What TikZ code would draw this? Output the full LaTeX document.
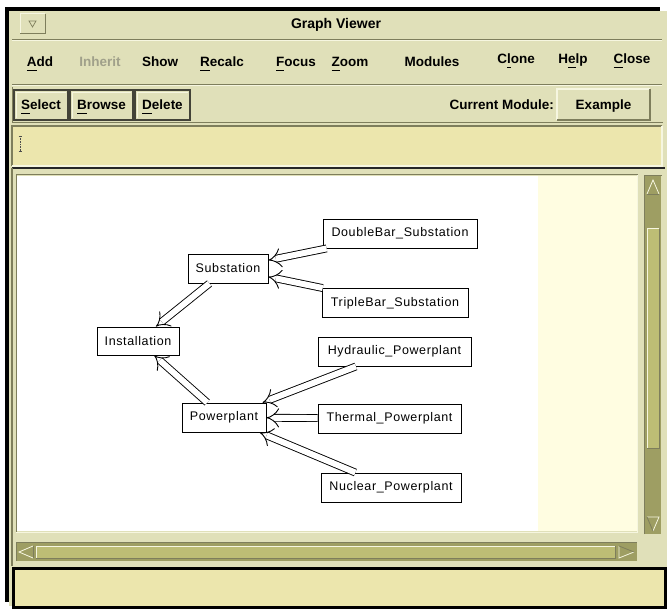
\documentclass[tikz,border=0pt]{standalone}
\usepackage{fontspec}
\setmainfont{Liberation Sans}
\usetikzlibrary{arrows.meta}
\definecolor{win}{HTML}{E0E0B9}
\definecolor{entry}{HTML}{ECE6AD}
\definecolor{pale}{HTML}{FFFDE1}
\definecolor{trough}{HTML}{9E9E63}
\definecolor{slider}{HTML}{BDBD75}
\definecolor{shadow}{HTML}{7E7E5C}
\definecolor{hilite}{HTML}{F6F6E0}
\definecolor{greytext}{HTML}{A0A08A}
\newcommand\mnem[1]{\setbox0\hbox{#1}\rlap{\rule[-4pt]{\wd0}{1.4pt}}#1}
\begin{document}
\begin{tikzpicture}[x=1pt,y=-1pt,
  menu/.style={font=\fontsize{13.5}{14}\selectfont\bfseries, inner sep=0, anchor=base},
  greymenu/.style={menu, text=greytext},
  btntext/.style={font=\fontsize{13.5}{14}\selectfont\bfseries, inner sep=0, anchor=base},
  cls/.style={draw=black, line width=0.9, fill=white, inner sep=0, minimum height=29,
    font=\fontsize{12.5}{13}\selectfont\addfontfeatures{LetterSpace=5}},
  edge/.style={draw=black, line width=0.9, double=white, double distance=6,
    -{Implies[length=7,width=16]}},
  sunk/.style={line width=1.2}]
\useasboundingbox (0,0) rectangle (667,612);
\fill[white] (0,0) rectangle (667,612);
% window
\fill[win] (9,11) rectangle (667,606);
\fill[black] (5,7) rectangle (660,11.5);
\fill[black] (5,7) rectangle (9,602);
% title bar
\draw[hilite, line width=1] (20,34) -- (20,14) -- (45,14);
\draw[shadow, line width=1] (45,14) -- (45,34) -- (20,34);
\draw[shadow, line width=0.7] (29,21) -- (36,21) -- (32.5,27) -- cycle;
\node[font=\fontsize{14}{15}\selectfont\bfseries, inner sep=0] (title) at (336,25) {Graph Viewer};
\draw[shadow, line width=1] (12,39.5) -- (662,39.5);
\draw[hilite, line width=1] (12,40.5) -- (662,40.5);
% menu
\node[menu] (madd) at (40,67) {\mnem{A}dd};
\node[greymenu] (minh) at (100,67) {Inherit};
\node[menu] (mshow) at (160,67) {Show};
\node[menu] (mrec) at (222,67) {\mnem{R}ecalc};
\node[menu] (mfoc) at (296,67) {\mnem{F}ocus};
\node[menu] (mzoom) at (350,67) {\mnem{Z}oom};
\node[menu] (mmod) at (432,67) {Modules};
\node[menu] (mclone) at (516,64) {C\mnem{l}one};
\node[menu] (mhelp) at (573,64) {H\mnem{e}lp};
\node[menu] (mclose) at (632,64) {\mnem{C}lose};
\draw[shadow, line width=1] (12,84.5) -- (662,84.5);
\draw[hilite, line width=1] (12,85.5) -- (662,85.5);
% button row
\draw[shadow, line width=1] (12,87) -- (12,123) -- (663,123);
\foreach \xa/\xb in {14/68,70/133,135/190}{
  \draw[black!70!win, line width=1.2] (\xa,90) rectangle (\xb,120);
  \draw[hilite, line width=0.8] (\xa+2,118) -- (\xa+2,92) -- (\xb-2,92);
}
\node[btntext] (bsel) at (41,110) {\mnem{S}elect};
\node[btntext] (bbro) at (101.5,110) {\mnem{B}rowse};
\node[btntext] (bdel) at (162.5,110) {\mnem{D}elete};
\node[btntext, anchor=base east] (curmod) at (554,110) {Current Module:};
\draw[hilite, line width=1.5] (557,120) -- (557,89) -- (650,89);
\draw[shadow, line width=1.5] (650,89) -- (650,120) -- (557,120);
\node[btntext] (example) at (603.5,110) {Example};
% entry field
\fill[entry] (12,126) rectangle (662,166);
\draw[shadow, sunk] (12,166) -- (12,126) -- (662,126);
\draw[hilite, sunk] (662,126) -- (662,166) -- (12,166);
\draw[black!70, line width=0.6, densely dotted] (20,136) -- (20,151);
\draw[black!70, line width=0.6] (18.5,136) -- (21.5,136) (18.5,151) -- (21.5,151);
% canvas panel
\draw[black!85, line width=1.6] (12,168) -- (665,168);
\draw[shadow, line width=1.2] (12,168) -- (12,566);
\fill[white] (17,176) rectangle (538,531);
\fill[pale] (538,176) rectangle (637,531);
\draw[shadow, line width=1] (16,532) -- (16,175) -- (637.5,175);
\draw[hilite, line width=1] (637.5,175) -- (637.5,532) -- (16,532);
% vertical scrollbar
\fill[trough] (645,176) rectangle (661,534);
\draw[shadow, line width=1] (644.5,534) -- (644.5,175.5) -- (661.5,175.5);
\draw[hilite, line width=0.8] (647,194) -- (653,180) -- (659,194);
\draw[shadow, line width=0.8] (647,194) -- (659,194);
\fill[slider] (647,229) rectangle (659,448);
\draw[hilite, line width=1] (647,448) -- (647,229) -- (659,229);
\draw[shadow, line width=1] (659,229) -- (659,448) -- (647,448);
\draw[hilite, line width=0.8] (647,517) -- (659,517) -- (653,531);
\draw[shadow, line width=0.8] (647,517) -- (653,531);
% horizontal scrollbar
\fill[trough] (17,543) rectangle (637,561);
\draw[shadow, line width=1] (16.5,561) -- (16.5,542.5) -- (637,542.5);
\draw[hilite, line width=0.8] (33,546) -- (19,552) -- (33,558);
\draw[shadow, line width=0.8] (33,546) -- (33,558);
\fill[slider] (36,546) rectangle (615,558);
\draw[hilite, line width=1] (36,558) -- (36,546) -- (615,546);
\draw[shadow, line width=1] (615,546) -- (615,558) -- (36,558);
\draw[hilite, line width=0.8] (619,546) -- (619,558) -- (634,552);
\draw[shadow, line width=0.8] (619,546) -- (634,552);
% bottom message panel
\draw[black, line width=3, fill=entry] (13.5,568.5) rectangle (665,607);
% graph nodes
\node[cls, minimum width=154] (dbl) at (400,233.5) {DoubleBar\_Substation};
\node[cls, minimum width=80] (sub) at (228,268.5) {Substation};
\node[cls, minimum width=146] (tpl) at (395,303) {TripleBar\_Substation};
\node[cls, minimum width=82, minimum height=28] (inst) at (138,341) {Installation};
\node[cls, minimum width=153] (hyd) at (394.5,351.5) {Hydraulic\_Powerplant};
\node[cls, minimum width=84] (pp) at (224,417.5) {Powerplant};
\node[cls, minimum width=143] (thm) at (389.5,418.5) {Thermal\_Powerplant};
\node[cls, minimum width=140] (nuc) at (391,487.5) {Nuclear\_Powerplant};
% connectors
\draw[edge] (dbl) -- (sub);
\draw[edge] (tpl) -- (sub);
\draw[edge] (sub) -- (inst);
\draw[edge] (pp) -- (inst);
\draw[edge] (hyd) -- (pp);
\draw[edge] (thm) -- (pp);
\draw[edge] (nuc) -- (pp);
\end{tikzpicture}
\end{document}
